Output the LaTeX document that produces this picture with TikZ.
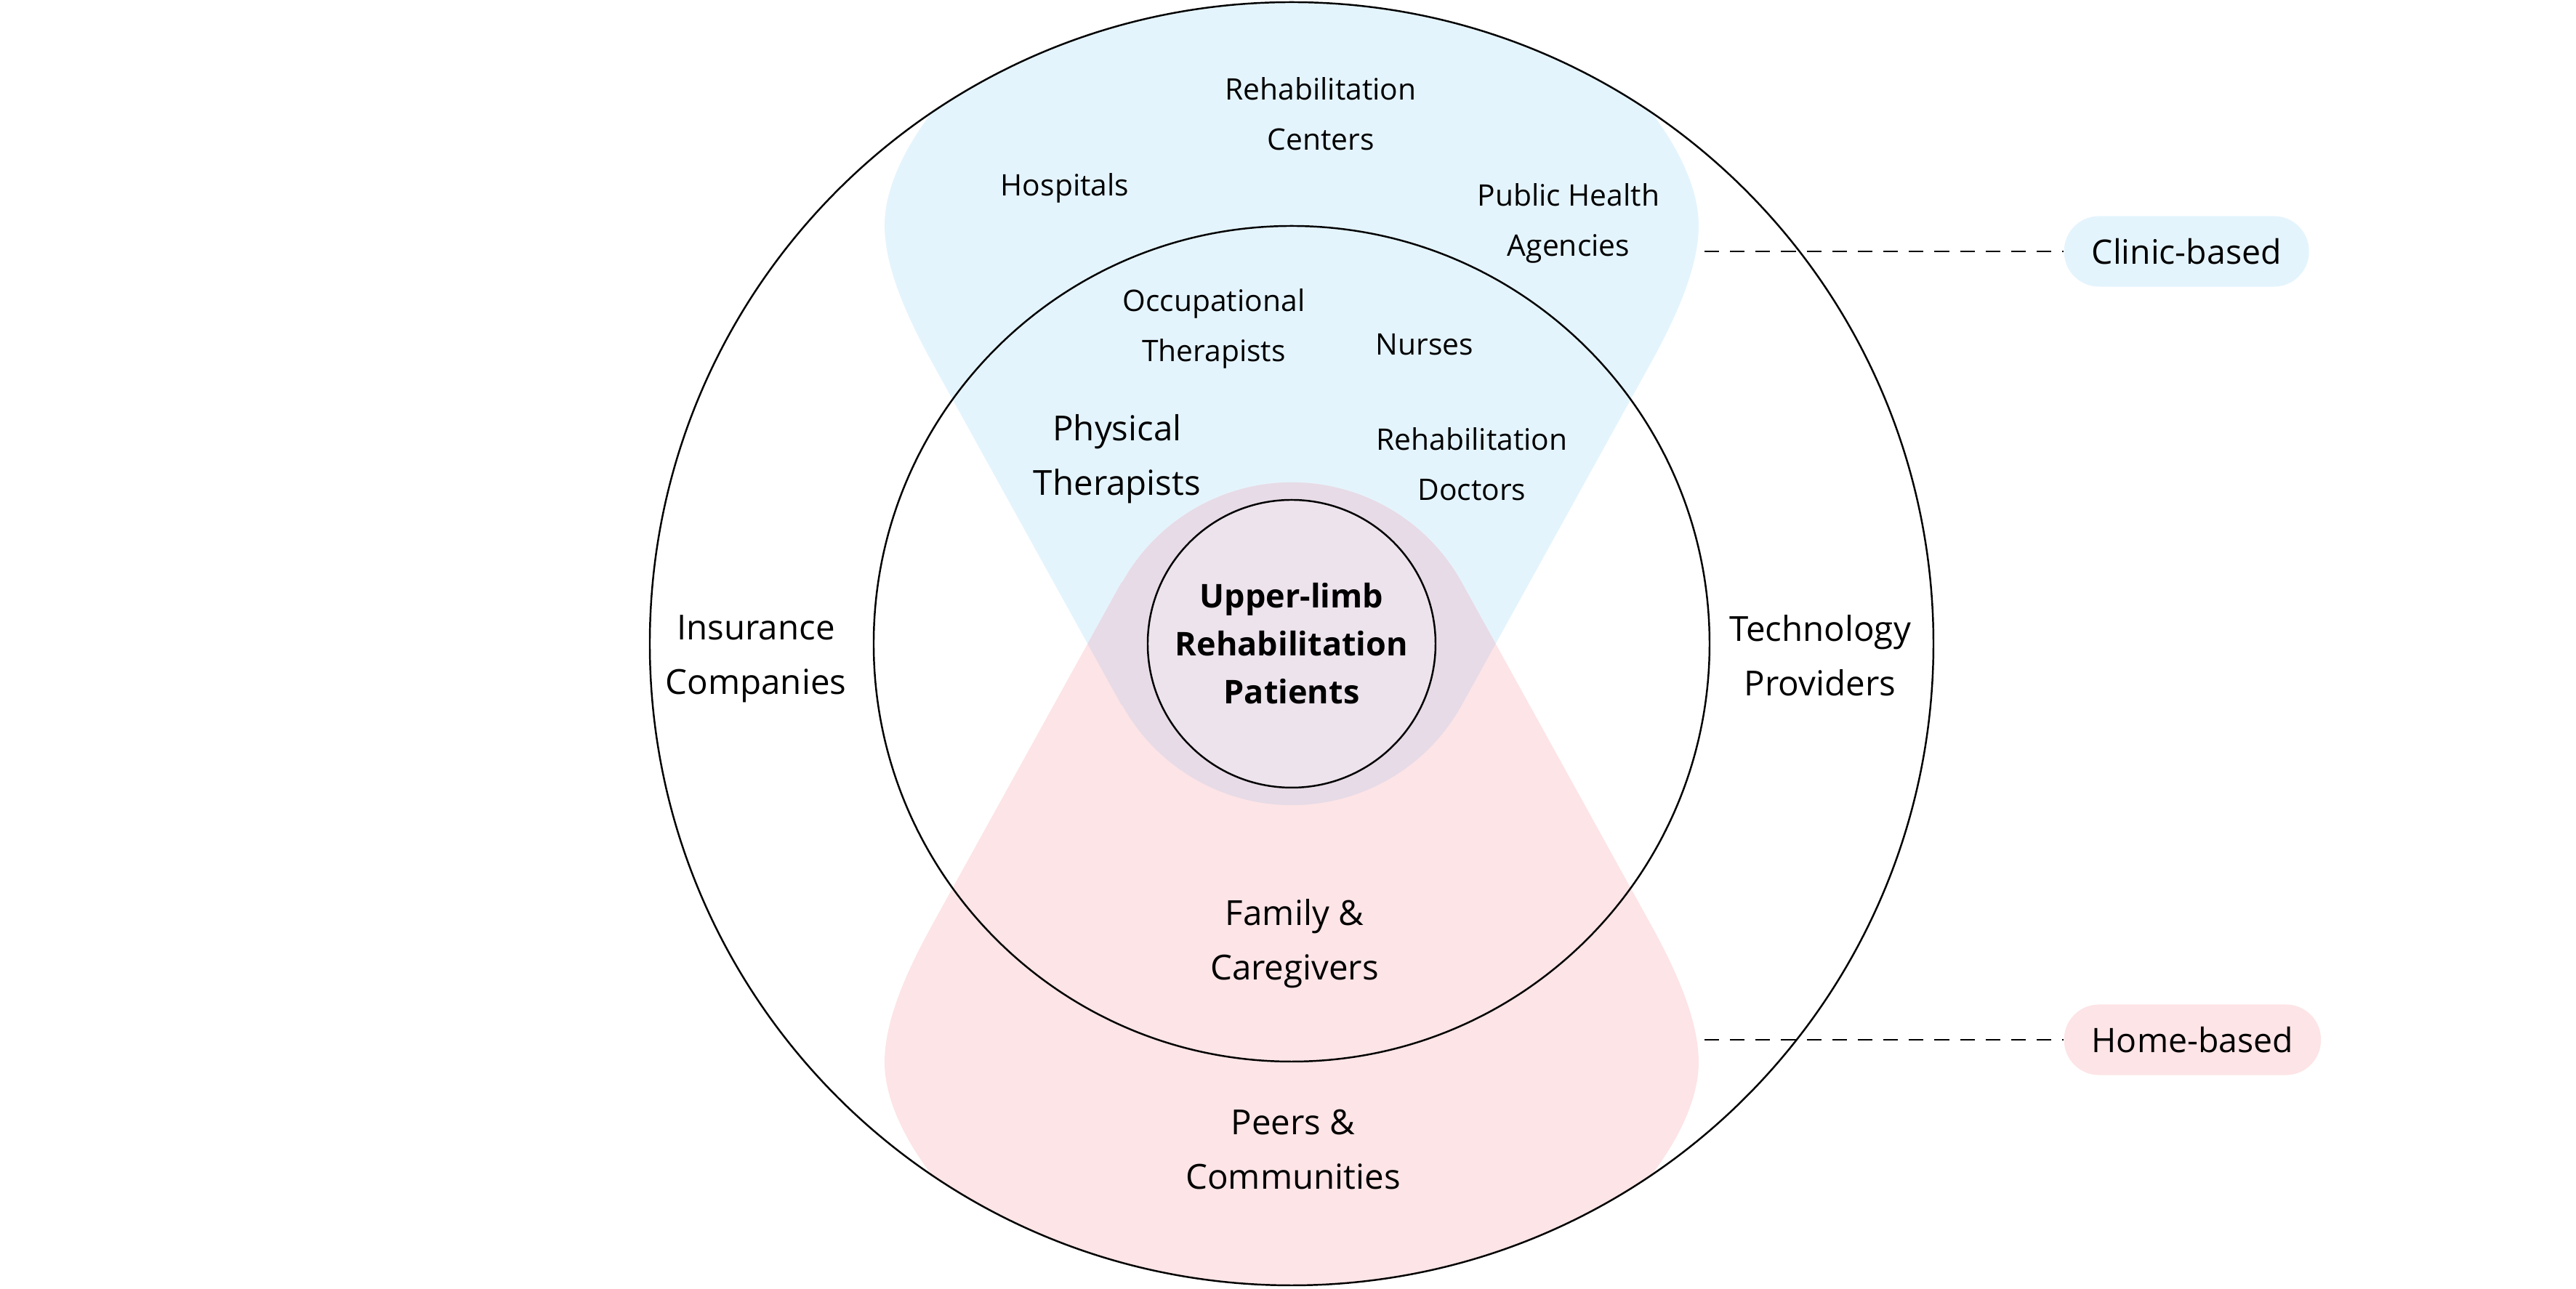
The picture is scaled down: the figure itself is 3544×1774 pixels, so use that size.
\documentclass[tikz,border=0pt]{standalone}
\usepackage{fontspec}
\setmainfont{Open Sans}
\usepackage{tikz}
\usetikzlibrary{positioning}

\definecolor{clinicblue}{HTML}{E4F4FD}
\definecolor{homepink}{HTML}{FDE4E6}
\definecolor{overlap}{HTML}{E6DBE6}
\definecolor{corefill}{HTML}{EDE3EC}

\newcommand{\lobepath}{(-234,-84.5) -- (-494,386) .. controls (-527,446) and (-560,516) .. (-560,576)
  .. controls (-560,680) and (-440,830) .. (-250,930) -- (250,930)
  .. controls (440,830) and (560,680) .. (560,576) .. controls (560,516) and (527,446) .. (494,386)
  -- (234,-84.5) arc[start angle=-29, end angle=-151, radius=267] -- cycle}

\begin{document}
\begin{tikzpicture}[
    x=0.01cm, y=0.01cm,
    ring/.style={draw, line width=0.7pt},
    big/.style={align=center, font=\fontsize{13.5}{21.3}\selectfont},
    small/.style={align=center, font=\fontsize{11.6}{19.6}\selectfont},
    core/.style={align=center, font=\fontsize{12.8}{18.8}\selectfont\bfseries},
    pill/.style={anchor=west, rounded corners=0.48cm, minimum height=0.97cm, inner xsep=0.38cm, font=\fontsize{13.2}{16}\selectfont},
    link/.style={line width=0.7pt, dash pattern=on 5.7pt off 4.3pt}
]
\useasboundingbox (-1777,-888) rectangle (1767,886);

\begin{scope}
    \clip (0,0) circle (883);
    \fill[clinicblue] \lobepath;
    \fill[homepink, yscale=-1] \lobepath;
    \begin{scope}
        \clip \lobepath;
        \fill[overlap, yscale=-1] \lobepath;
    \end{scope}
\end{scope}

\draw[ring] (0,0) circle (883);
\draw[ring] (0,0) circle (575);
\draw[ring, fill=corefill] (0,0) circle (198);

\node[core] (patients) at (0,0) {Upper-limb\\Rehabilitation\\Patients};

\node[small] (centers) at (40,729) {Rehabilitation\\Centers};
\node[small] (hospitals) at (-312,627) {Hospitals};
\node[small] (agencies) at (381,579) {Public Health\\Agencies};
\node[small] (occupational) at (-107,434) {Occupational\\Therapists};
\node[small] (nurses) at (183,412) {Nurses};
\node[big] (physical) at (-240,254) {Physical\\Therapists};
\node[small] (doctors) at (248,247) {Rehabilitation\\Doctors};
\node[big] (insurance) at (-737,-21) {Insurance\\Companies};
\node[big] (technology) at (727,-16) {Technology\\Providers};
\node[big] (family) at (4,-413) {Family \&\\Caregivers};
\node[big] (peers) at (2,-696) {Peers \&\\Communities};

\node[pill, fill=clinicblue] (clinic) at (1062,540) {Clinic-based};
\node[pill, fill=homepink] (home) at (1062,-545) {Home-based};

\coordinate (clinicend) at (568,540);
\coordinate (homeend) at (568,-545);
\draw[link] (clinicend) -- (clinic.west);
\draw[link] (homeend) -- (home.west);
\end{tikzpicture}
\end{document}
